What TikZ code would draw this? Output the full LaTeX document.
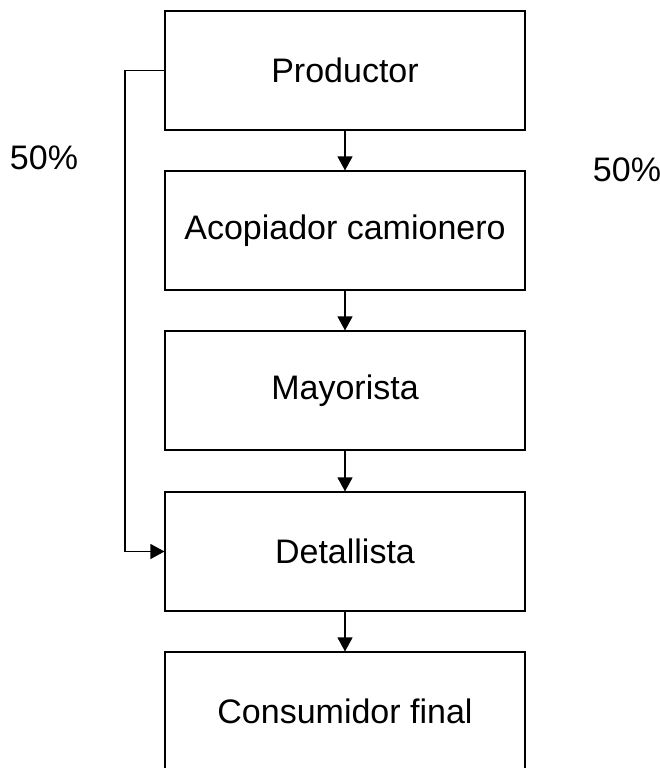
\documentclass[tikz,border=0pt]{standalone}
\usepackage{fontspec}
\setmainfont{Liberation Sans}
\usetikzlibrary{arrows.meta}
\begin{document}
\begin{tikzpicture}[x=1pt,y=-1pt,
  stagebox/.style={draw=black,line width=1.1pt,minimum width=360pt,minimum height=119pt,inner sep=0pt,font=\fontsize{34}{40}\selectfont},
  flow/.style={draw=black,line width=1.1pt,-{Triangle[length=14pt,width=15pt]}},
  pct/.style={font=\fontsize{34}{40}\selectfont,inner sep=0pt}]
\useasboundingbox (0,0) rectangle (660,768);
\clip (0,0) rectangle (660,768);
\fill[white] (0,0) rectangle (660,768);
\node[stagebox] (p) at (345,70.5) {Productor};
\node[stagebox] (a) at (345,230.5) {Acopiador camionero};
\node[stagebox] (m) at (345,390.5) {Mayorista};
\node[stagebox] (d) at (345,551.5) {Detallista};
\node[stagebox] (c) at (345,711.5) {Consumidor final};
\node[pct] (l) at (44,158) {50\%};
\node[pct] (r) at (627,170) {50\%};
\draw[flow] (p.south) -- (a.north);
\draw[flow] (a.south) -- (m.north);
\draw[flow] (m.south) -- (d.north);
\draw[flow] (d.south) -- (c.north);
\coordinate (k1) at (125,70.5);
\coordinate (k2) at (125,551.5);
\draw[flow] (p.west) -- (k1) -- (k2) -- (d.west);
\end{tikzpicture}
\end{document}
